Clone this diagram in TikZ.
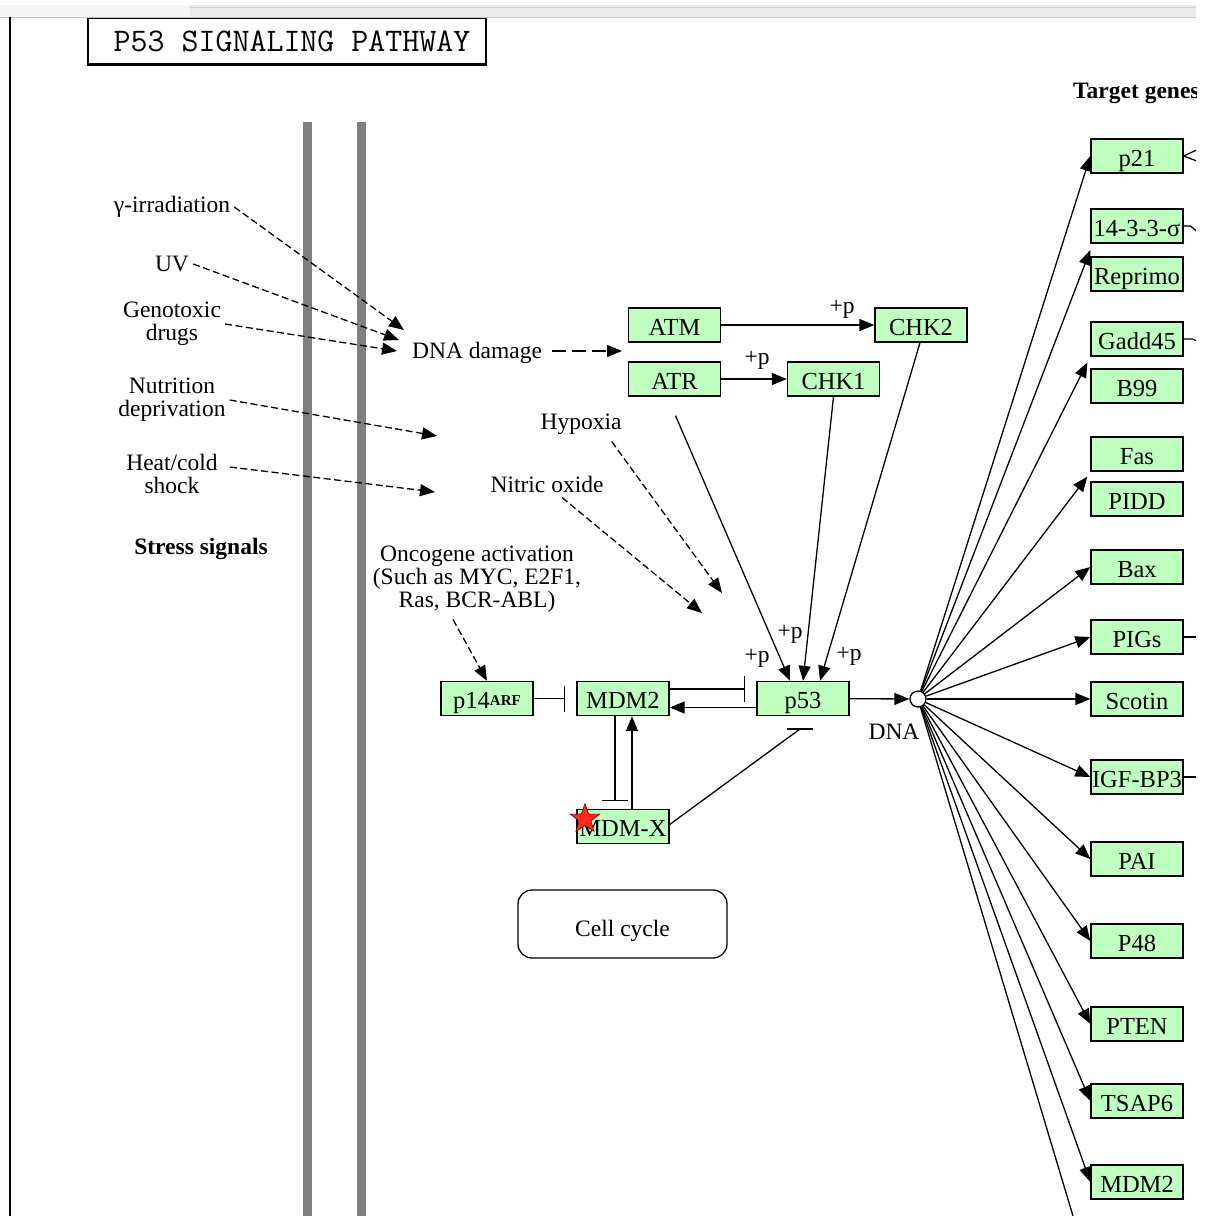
\documentclass[tikz,border=0pt]{standalone}
\usepackage{fontspec}
\setmainfont{Liberation Serif}
\usetikzlibrary{arrows.meta,shapes.geometric,calc}
\definecolor{genegreen}{HTML}{BFFFBF}
\definecolor{bargray}{HTML}{808080}
\definecolor{starred}{HTML}{FF2A1A}
\newcommand\lblf{\fontsize{23.5}{23}\selectfont}
\newcommand\genef{\fontsize{24.5}{24}\selectfont}
\begin{document}
\begin{tikzpicture}[x=1pt,y=-1pt,
  gene/.style={draw=black,line width=1.3pt,fill=genegreen,minimum width=92pt,minimum height=34pt,inner sep=0pt,font=\genef,text height=20pt,text depth=0pt},
  lab/.style={font=\lblf,inner sep=4pt,align=center},
  arr/.style={line width=1.3pt,-{Triangle[length=15pt,width=12pt]}},
  darr/.style={arr,dash pattern=on 7pt off 3.5pt},
  inh/.style={line width=1.3pt,-{Bar[width=26pt,line width=1.5pt]}},
  plab/.style={font=\lblf,inner sep=0pt},
  stub/.style={line width=1.2pt}]
\useasboundingbox (0,0) rectangle (1205,1216);
\clip (0,0) rectangle (1196,1216);

% title box and window frame
\node[draw,line width=2.6pt,minimum width=398pt,minimum height=47pt,inner sep=0pt] (title) at (287,41) {};
\node[inner sep=0pt] (titletext) at (292,41) {\ttfamily\fontsize{33}{34}\selectfont P53 SIGNALING PATHWAY};
\fill[gray!16] (0,5) rectangle (1196,17.5);
\fill[gray!8] (0,5) rectangle (190,17.5);
\draw[gray!45,line width=1pt] (0,17) -- (1196,17);
\draw[gray!35,line width=0.8pt] (190,7) -- (1196,7);
\draw[line width=2pt] (10,17) -- (10,1216);

% membrane bars
\fill[bargray] (302.5,122) rectangle (311.5,1216);
\fill[bargray] (356.5,122) rectangle (365.5,1216);

% stress signal texts
\node[lab] (gamma) at (172,207) {γ-irradiation};
\node[lab] (uv) at (172,264) {UV};
\node[lab] (geno) at (172,324) {Genotoxic\\drugs};
\node[lab] (nutri) at (172,400) {Nutrition\\deprivation};
\node[lab] (heat) at (172,474) {Heat/cold\\shock};
\node[lab,font=\lblf\bfseries] (stress) at (201,549) {Stress signals};
\node[lab] (dnadmg) at (477,353) {DNA damage};
\node[lab] (hypoxia) at (581,424) {Hypoxia};
\node[lab] (nitric) at (547,484) {Nitric oxide};
\node[lab] (onco) at (477,579) {Oncogene activation\\(Such as MYC, E2F1,\\Ras, BCR-ABL)};
\node[lab,font=\lblf\bfseries,anchor=west] (target) at (1069,93) {Target genes};

% genes
\node[gene] (atm) at (674.5,325) {ATM};
\node[gene] (chk2) at (921,325) {CHK2};
\node[gene] (atr) at (674.5,379) {ATR};
\node[gene] (chk1) at (833.5,379) {CHK1};
\node[gene] (p14) at (487,698.5) {p14\raisebox{3pt}{\fontsize{15}{15}\selectfont\bfseries ARF}};
\node[gene] (mdm2) at (623,698.5) {MDM2};
\node[gene] (p53) at (803,698.5) {p53};
\node[gene] (mdmx) at (623,826.5) {MDM-X};
\node[star,star points=5,star point ratio=2.5,fill=starred,draw=red!50!black,line width=0.6pt,minimum size=31pt,inner sep=0pt] (star) at (585,819) {};

\node[gene] (p21) at (1137,156) {p21};
\node[gene] (s1433) at (1137,226) {14-3-3-σ};
\node[gene] (reprimo) at (1137,274) {Reprimo};
\node[gene] (gadd) at (1137,339) {Gadd45};
\node[gene] (b99) at (1137,386) {B99};
\node[gene] (fas) at (1137,454) {Fas};
\node[gene] (pidd) at (1137,499) {PIDD};
\node[gene] (bax) at (1137,567) {Bax};
\node[gene] (pigs) at (1137,637) {PIGs};
\node[gene] (scotin) at (1137,699) {Scotin};
\node[gene] (igf) at (1137,777) {IGF-BP3};
\node[gene] (pai) at (1137,859) {PAI};
\node[gene] (p48) at (1137,941) {P48};
\node[gene] (pten) at (1137,1024) {PTEN};
\node[gene] (tsap) at (1137,1101) {TSAP6};
\node[gene] (mdmb) at (1137,1182) {MDM2};

\node[draw,line width=1.3pt,rounded corners=14pt,minimum width=209pt,minimum height=68pt,font=\lblf,text height=24pt,text depth=0pt] (cellcycle) at (622.5,924) {Cell cycle};

% DNA node
\node[circle,draw,fill=white,minimum size=16pt,inner sep=0pt,line width=1.3pt] (dna) at (918,699) {};
\node[lab] (dnalab) at (894,732) {DNA};

% stress arrows
\coordinate (tg) at (404,330);
\coordinate (tu) at (399,340);
\coordinate (td) at (397,351);
\coordinate (tn) at (437,436);
\coordinate (th) at (435,492);
\draw[darr] (gamma.east) -- (tg);
\draw[darr] (uv.east) -- (tu);
\draw[darr] (geno.east) -- (td);
\draw[darr] (nutri.east) -- (tn);
\draw[darr] ($(heat.east)+(8,-7)$) -- (th);

\coordinate (tatm) at (622,351);
\draw[arr,dash pattern=on 14pt off 6pt] ($(dnadmg.east)+(6,-2)$) -- (tatm);
\coordinate (thyp) at (722,593);
\coordinate (tnit) at (702,613);
\draw[darr] ($(hypoxia.south east)+(-14,3)$) -- (thyp);
\draw[darr] ($(nitric.south)+(15,1)$) -- (tnit);
\draw[darr] ($(onco.south)+(-24,3)$) -- (p14.north);

% kinase arrows
\draw[arr] (atm) -- (chk2);
\draw[arr] (atr) -- (chk1);
\draw[arr] ($(atr.south)+(1,19)$) -- ($(p53.north)+(-13,0)$);
\draw[arr] (chk1.south) -- (p53.north);
\draw[arr] ($(chk2.south)+(-1,0)$) -- ($(p53.north)+(17,0)$);
\node[plab] (pl1) at (842,309) {+p};
\node[plab] (pl2) at (757,360) {+p};
\node[plab] (pl3) at (790,634) {+p};
\node[plab] (pl4) at (757,658) {+p};
\node[plab] (pl5) at (849,656) {+p};

% MDM2 module
\coordinate (b1) at (565,698.5);
\draw[inh] (p14) -- (b1);
\coordinate (b2) at (745,689);
\draw[inh] (mdm2.east |- b2) -- (b2);
\coordinate (y708) at (0,707.5);
\draw[arr] (p53.west |- y708) -- (mdm2.east |- y708);
\coordinate (b3) at (615,801);
\draw[inh] (b3 |- mdm2.south) -- (b3);
\coordinate (x632) at (632,0);
\draw[arr] (x632 |- mdmx.north) -- (x632 |- mdm2.south);
\coordinate (b4) at (800,729);
\draw[line width=1.3pt] ($(mdmx.east)+(0,-2)$) -- (b4);
\draw[line width=1.5pt] ($(b4)+(-13,0)$) -- ($(b4)+(13,0)$);

% p53 -> DNA -> targets
\draw[arr] (p53) -- (dna);
\coordinate (g1) at ($(s1433.south west)!0.5!(reprimo.north west)$);
\coordinate (g2) at ($(gadd.south west)!0.5!(b99.north west)+(-3,0)$);
\coordinate (g3) at ($(fas.south west)!0.5!(pidd.north west)+(-3,0)$);
\draw[arr] (dna) -- (g1);
\draw[arr] (dna) -- (g2);
\draw[arr] (dna) -- (g3);
\foreach \t in {p21,bax,pigs,scotin,igf,pai,p48,pten,tsap,mdmb}
  \draw[arr] (dna) -- (\t.west);
\coordinate (off) at (1082,1246);
\draw[line width=1.3pt] (dna) -- (off);

% stubs leaving to the right
\draw[stub] (p21.east) -- ++(13,-6);
\draw[stub] (p21.east) -- ++(13,5);
\draw[stub] (s1433.east) -- ++(7,0) -- ++(8,7);
\draw[stub] (gadd.east) -- ++(9,0) -- ++(6,3);
\draw[stub] (pigs.east) -- ++(15,0);
\draw[stub] (igf.east) -- ++(15,0);
\end{tikzpicture}
\end{document}
